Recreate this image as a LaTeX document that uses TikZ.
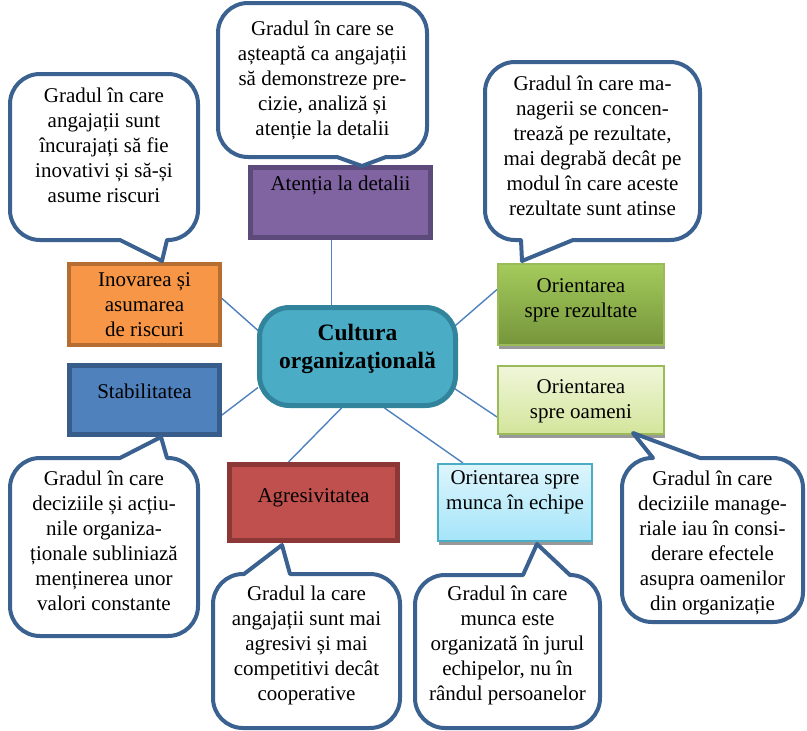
\documentclass[tikz,border=0pt]{standalone}
\usepackage{fontspec}
\setmainfont{Liberation Serif}
\usetikzlibrary{calc,backgrounds,shadows}

\definecolor{bubbleline}{RGB}{59,97,144}
\definecolor{linkblue}{RGB}{79,129,189}
\definecolor{orangefill}{RGB}{247,150,70}
\definecolor{orangeline}{RGB}{182,109,49}
\definecolor{purplefill}{RGB}{128,100,162}
\definecolor{purpleline}{RGB}{92,74,123}
\definecolor{bluefill}{RGB}{79,129,189}
\definecolor{blueline}{RGB}{56,93,138}
\definecolor{redfill}{RGB}{192,80,77}
\definecolor{redline}{RGB}{140,56,54}
\definecolor{tealfill}{RGB}{75,172,198}
\definecolor{tealline}{RGB}{49,132,155}
\definecolor{greentop}{RGB}{164,203,92}
\definecolor{greenbot}{RGB}{118,149,59}
\definecolor{greenline}{RGB}{155,187,89}
\definecolor{palegreentop}{RGB}{240,246,218}
\definecolor{palegreenbot}{RGB}{211,229,155}
\definecolor{cyantop}{RGB}{221,245,252}
\definecolor{cyanbot}{RGB}{165,229,249}

\newcommand\bubblefont{\fontsize{21}{25}\selectfont}
\newcommand\corefont{\fontsize{23.5}{28}\selectfont\bfseries}

% speech bubble, pointer leaving the bottom edge: x1,y1,x2,y2,base left,base right,(tip)
\newcommand\bubbledown[7]{%
  \draw[bubble] ({#1+30},#2) -- ({#3-30},#2)
    arc[start angle=270,end angle=360,radius=30] -- (#3,{#4-30})
    arc[start angle=0,end angle=90,radius=30] -- (#6,#4) -- #7 -- (#5,#4)
    -- ({#1+30},#4) arc[start angle=90,end angle=180,radius=30]
    -- (#1,{#2+30}) arc[start angle=180,end angle=270,radius=30] -- cycle;}
% speech bubble, pointer leaving the top edge
\newcommand\bubbleup[7]{%
  \draw[bubble] ({#1+30},#2) -- (#5,#2) -- #7 -- (#6,#2) -- ({#3-30},#2)
    arc[start angle=270,end angle=360,radius=30] -- (#3,{#4-30})
    arc[start angle=0,end angle=90,radius=30] -- ({#1+30},#4)
    arc[start angle=90,end angle=180,radius=30]
    -- (#1,{#2+30}) arc[start angle=180,end angle=270,radius=30] -- cycle;}

\begin{document}
\begin{tikzpicture}[x=1pt,y=-1pt,
  bubble/.style={draw=bubbleline,fill=white,line width=4pt,line join=round},
  bubbletext/.style={font=\bubblefont,align=center,inner sep=0pt,anchor=north},
  solidbox/.style={rectangle,inner sep=0pt,line width=5pt},
  softbox/.style={rectangle,inner sep=0pt,line width=2pt,
    drop shadow={shadow xshift=1pt,shadow yshift=-4pt,fill=black!40,opacity=1}},
  link/.style={draw=linkblue,line width=1.4pt}]
\useasboundingbox (0,0) rectangle (807,731);

% central node
\node[rounded corners=30pt,draw=tealline,fill=tealfill,line width=5pt,
  minimum width=196pt,minimum height=98pt,inner sep=0pt,
  drop shadow={shadow xshift=-1pt,shadow yshift=-2pt,fill=black,opacity=0.18}] (cult) at (357.5,356.5) {};
\node[font=\corefont,align=center,inner sep=0pt,anchor=north] (cultt) at (357.5,324) {Cultura\\organizaţională};

% the seven dimensions
\node[solidbox,line width=4pt,draw=orangeline,fill=orangefill,minimum width=151pt,minimum height=81pt] (inov) at (144.5,304.5) {};
\node[solidbox,draw=purpleline,fill=purplefill,minimum width=180pt,minimum height=70pt] (atent) at (340.5,202.5) {};
\node[softbox,draw=greenline,top color=greentop,bottom color=greenbot,minimum width=166pt,minimum height=81pt] (rez) at (581,304.5) {};
\node[softbox,draw=greenline,top color=palegreentop,bottom color=palegreenbot,minimum width=166pt,minimum height=68pt] (oam) at (581,400) {};
\node[solidbox,draw=blueline,fill=bluefill,minimum width=150pt,minimum height=69pt] (stab) at (144.5,400) {};
\node[solidbox,draw=redline,fill=redfill,minimum width=168pt,minimum height=76pt] (agr) at (313.5,502.5) {};
\node[softbox,draw=tealfill,top color=cyantop,bottom color=cyanbot,minimum width=154pt,minimum height=77pt] (ech) at (515,502.5) {};

\node[bubbletext] (inovt) at (144.5,272.5) {Inovarea și\\asumarea\\de riscuri};
\node[bubbletext] (atentt) at (340.5,175.5) {Atenția la detalii};
\node[bubbletext] (rezt) at (581,278.5) {Orientarea\\spre rezultate};
\node[bubbletext] (oamt) at (581,379.5) {Orientarea\\spre oameni};
\node[bubbletext] (stabt) at (144.5,383.5) {Stabilitatea};
\node[bubbletext] (agrt) at (313.5,488.5) {Agresivitatea};
\node[bubbletext] (echt) at (515,470.5) {Orientarea spre\\munca în echipe};

% connectors from the centre
\begin{scope}[on background layer]
\draw[link] ($(atent.south)+(-9,0)$) -- ($(cult.north)+(-26,0)$);
\draw[link] ($(inov.east)+(0,-6)$) -- ($(cult.west)+(1,-26)$);
\draw[link] ($(stab.east)+(0,15)$) -- ($(cult.west)+(1,31)$);
\draw[link] ($(cult.south)+(-16,0)$) -- ($(agr.north)+(-25,0)$);
\draw[link] ($(cult.south)+(27,0)$) -- ($(ech.north)+(-52,0)$);
\draw[link] ($(cult.east)+(-6,-28)$) -- ($(rez.west)+(0,-15)$);
\draw[link] ($(cult.east)+(-5,31)$) -- ($(oam.west)+(0,17)$);
\end{scope}

% explanatory speech bubbles
\bubbledown{10}{74}{198}{240}{120}{167}{(162,261)}
\node[bubbletext] (b1) at (104,87.5) {Gradul în care\\angajații sunt\\încurajați să fie\\inovativi și să-și\\asume riscuri};

\bubbledown{218}{3}{427}{157}{337}{386}{(362,166)}
\node[bubbletext] (b2) at (322.5,20.5) {Gradul în care se\\așteaptă ca angajații\\să demonstreze pre-\\cizie, analiză și\\atenție la detalii};

\bubbledown{485}{62}{700}{240}{521}{573}{(522,261)}
\node[bubbletext] (b3) at (592.5,75.5) {Gradul în care ma-\\nagerii se concen-\\trează pe rezultate,\\mai degrabă decât pe\\modul în care aceste\\rezultate sunt atinse};

\bubbleup{10}{458}{198}{636}{120}{167}{(161,437)}
\node[bubbletext] (b4) at (104,470.5) {Gradul în care\\deciziile și acțiu-\\nile organiza-\\ționale subliniază\\menținerea unor\\valori constante};

\bubbleup{213}{574}{400}{728}{244}{290}{(282,545)}
\node[bubbletext] (b5) at (306.5,585.5) {Gradul la care\\angajații sunt mai\\agresivi și mai\\competitivi decât\\cooperative};

\bubbleup{415}{575}{600}{728}{523}{570}{(537,544)}
\node[bubbletext] (b6) at (507.5,585.5) {Gradul în care\\munca este\\organizată în jurul\\echipelor, nu în\\rândul persoanelor};

\bubbleup{622}{458}{803}{622}{653}{700}{(633,433)}
\node[bubbletext] (b7) at (712.5,470.5) {Gradul în care\\deciziile manage-\\riale iau în consi-\\derare efectele\\asupra oamenilor\\din organizație};
\end{tikzpicture}
\end{document}
